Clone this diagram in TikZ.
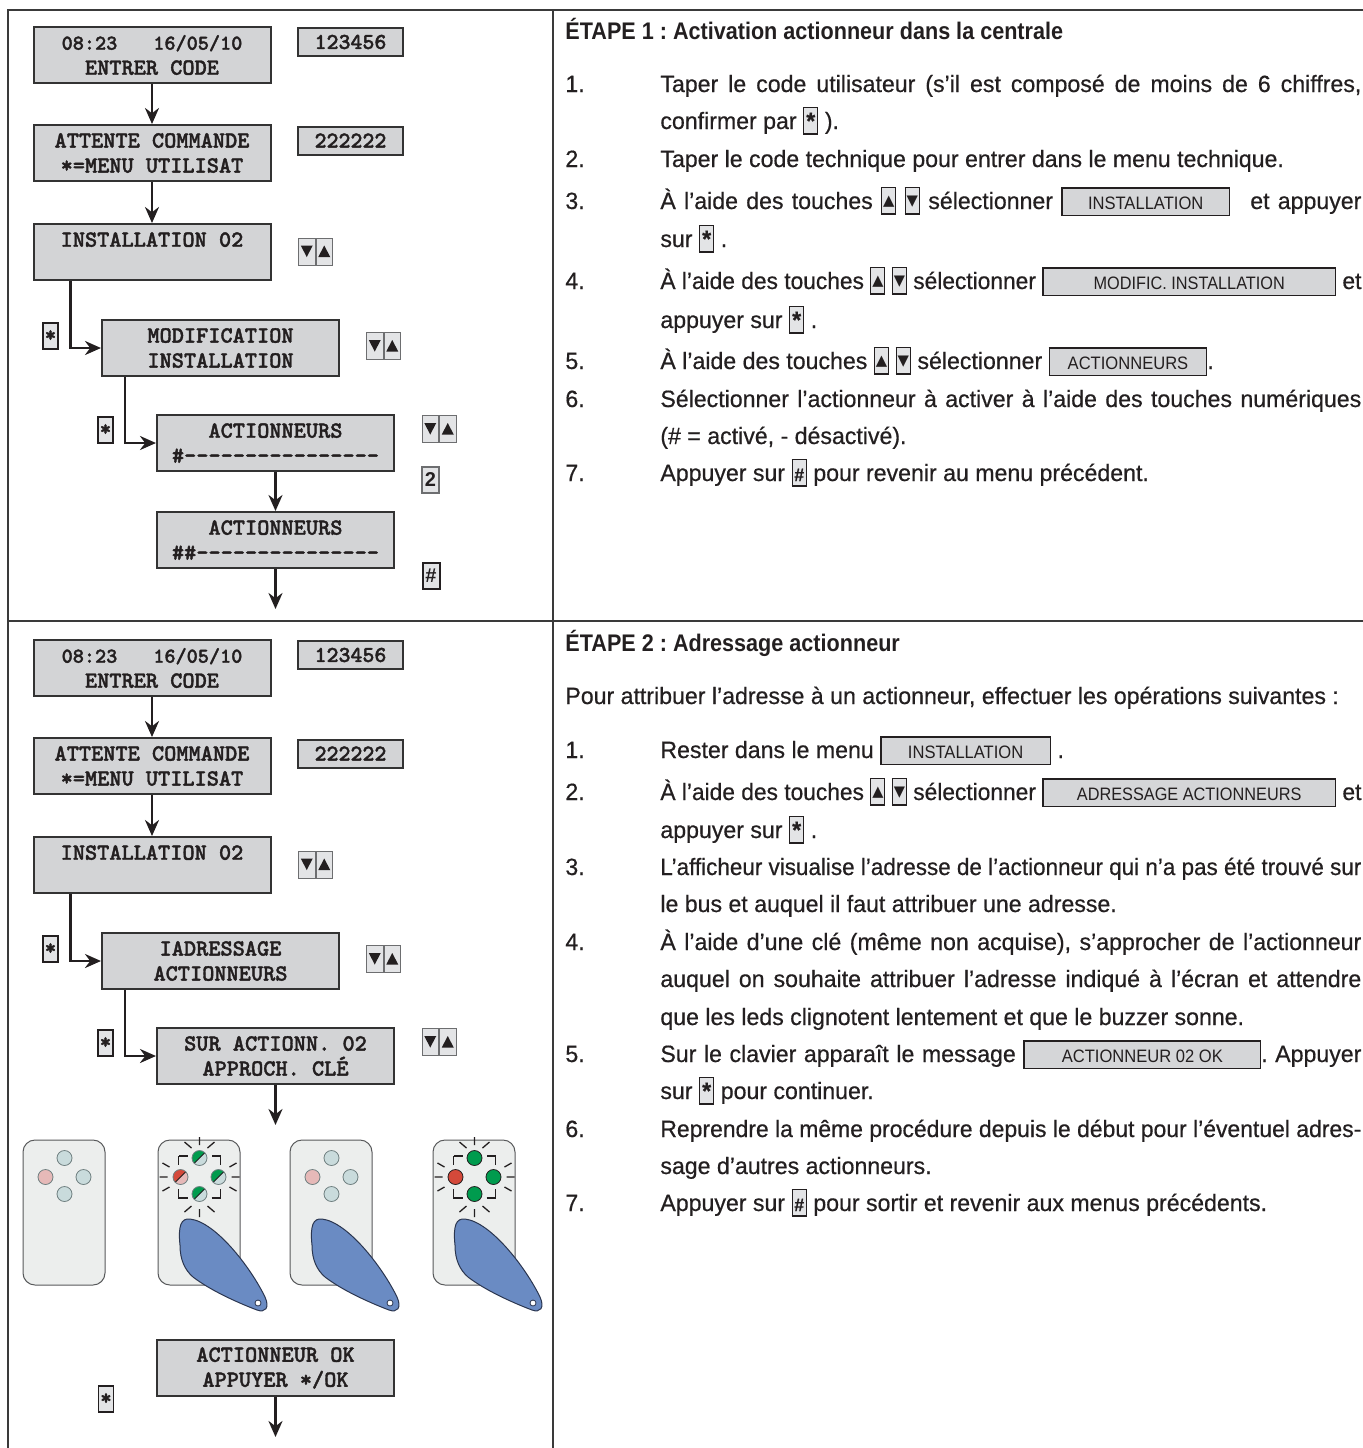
\documentclass[tikz,border=0pt]{standalone}
\usepackage{fontspec}
\setmainfont{Liberation Sans}
\newfontfamily\bodyfont{Liberation Sans}[FakeStretch=0.98,FakeBold=0.5]
\newfontfamily\headfont{Liberation Sans}[FakeStretch=0.9]
\newfontfamily\lblfont{Liberation Sans}[FakeStretch=0.92]
\newfontfamily\lcdfont{lmmonolt10-bold.otf}[FakeBold=1.6]
\newfontfamily\symfont{DejaVu Sans}
\usetikzlibrary{arrows.meta,calc}

\definecolor{ink}{HTML}{231F20}
\definecolor{framecol}{HTML}{3A3A3A}
\definecolor{lcdline}{HTML}{333333}
\definecolor{lcdfill}{HTML}{D3D4D6}
\definecolor{keyfill}{HTML}{E3E4E6}
\definecolor{keyline}{HTML}{6D6E70}
\definecolor{lblfill}{HTML}{D5D6D8}
\definecolor{remfill}{HTML}{ECEEED}
\definecolor{remline}{HTML}{58595B}
\definecolor{ledpale}{HTML}{C9DBDC}
\definecolor{ledpink}{HTML}{E6B9B8}
\definecolor{ledgreen}{HTML}{009B4E}
\definecolor{ledred}{HTML}{D4493A}
\definecolor{ledline}{HTML}{6F7F80}
\definecolor{fobblue}{HTML}{6A8BC3}
\definecolor{fobline}{HTML}{2B3650}

% one dash of the LCD bar graph (kern keeps hyphens from merging)
\newcommand\lcdbar{-\kern0pt}
% LCD lettering: serif typewriter bold
\newcommand\lcdtype{\lcdfont}
% justified text line of the instruction column (squeezed if too long)
\newsavebox\jbox
\newcommand\jline[1]{\sbox\jbox{#1}%
  \ifdim\wd\jbox>350.5pt\resizebox{350.5pt}{\height}{\usebox\jbox}%
  \else\makebox[350.5pt][s]{#1}\fi}
% keypad keys shown inside the text
\newcommand\kbox[1]{{\setlength\fboxsep{0pt}\setlength\fboxrule{0.55pt}%
  \fcolorbox{ink}{keyfill}{\makebox[6.6pt]{\rule[-2.2pt]{0pt}{12.6pt}#1}}}}
\newcommand\kup{\kbox{\raisebox{1.6pt}{\symfont\fontsize{7.4}{7.4}\selectfont ▲}}}
\newcommand\kdown{\kbox{\raisebox{1.6pt}{\symfont\fontsize{7.4}{7.4}\selectfont ▼}}}
\newcommand\kstar{\kbox{\bfseries *}}
\newcommand\khash{\kbox{\fontsize{9}{9}\selectfont\bfseries\#}}
% display messages quoted inside the text
\newcommand\lbl[2]{{\setlength\fboxsep{0pt}\setlength\fboxrule{0.7pt}%
  \fcolorbox{ink}{lblfill}{\makebox[#1]{\rule[-2.8pt]{0pt}{12.9pt}\lblfont\fontsize{9}{9}\selectfont #2}}}}

\tikzset{
  lcd/.style={draw=lcdline, fill=lcdfill, line width=1pt, minimum width=118.5pt,
    minimum height=28pt, inner sep=0pt, align=center, text=ink,
    font={\lcdtype\fontsize{11.6}{12.5}\selectfont}},
  codebox/.style={draw=lcdline, fill=lcdfill, line width=1pt, minimum width=52.5pt,
    minimum height=14pt, inner sep=0pt, text=ink,
    font={\lcdtype\fontsize{11.4}{12}\selectfont}},
  flow/.style={draw=ink, line width=1.25pt, -{Stealth[length=8pt,width=7pt,inset=2.6pt]}},
  keyb/.style={draw=keyline, fill=keyfill, line width=0.5pt, minimum width=8.25pt,
    minimum height=13.5pt, inner sep=0pt},
  starkey/.style={draw=ink, fill=keyfill, line width=0.8pt, minimum width=7.5pt,
    minimum height=13pt, inner sep=0pt, text=ink,
    font={\lcdtype\fontsize{11}{11}\selectfont}},
  numkey/.style={draw=keyline, fill=keyfill, line width=0.6pt, minimum width=8.5pt,
    minimum height=13pt, inner sep=0pt, text=ink,
    font={\bfseries\fontsize{10}{10}\selectfont}},
  hashkey/.style={numkey, draw=ink, line width=1pt},
  body/.style={anchor=base west, inner sep=0pt, text=ink, font={\bodyfont\fontsize{11.8}{13}\selectfont}},
  head/.style={body, font={\headfont\bfseries\fontsize{12}{13}\selectfont}},
  frame/.style={draw=framecol, line width=1pt},
  remote/.style={draw=remline, fill=remfill, line width=0.5pt, rounded corners=6pt},
  fob/.style={draw=fobline, fill=fobblue, line width=0.5pt},
  led/.style={draw=ledline, line width=0.4pt},
  ray/.style={draw=ink, line width=0.65pt},
  blink/.style={draw=ink, line width=0.9pt, dash pattern=on 9pt off 12pt, dash phase=4.5pt},
}

% pair of arrow keys (down, up) centred on #2,#3
\newcommand\udkeys[3]{%
  \node[keyb, anchor=east] (#1d) at (#2,#3) {};
  \node[keyb, anchor=west] (#1u) at (#2,#3) {};
  \fill[ink] ($(#1d.center)+(-6,-6)$) -- ($(#1d.center)+(6,-6)$) -- ($(#1d.center)+(0,5.5)$) -- cycle;
  \fill[ink] ($(#1u.center)+(-6,5.5)$) -- ($(#1u.center)+(6,5.5)$) -- ($(#1u.center)+(0,-6)$) -- cycle;
}
% remote case with left edge at #1
\newcommand\remotecase[1]{\draw[remote] (#1,1140) rectangle ($(#1,1140)+(82,145)$);}
% plain led
\newcommand\ledplain[3]{\filldraw[led, fill=#3] (#1,#2) circle (7.5);}
% half-lit led: pale colour #3, lit colour #4
\newcommand\ledhalf[4]{%
  \fill[#3] (#1,#2) circle (7.5);
  \fill[#4] ($(#1,#2)+(-45:7.5)$) arc (-45:-225:7.5) -- cycle;
  \draw[led, draw=ink] ($(#1,#2)+(135:7.5)$) -- ($(#1,#2)+(-45:7.5)$);
  \draw[led] (#1,#2) circle (7.5);
}
% blinking marks around the led cluster centred on #1,#2
\newcommand\blinkmarks[2]{%
  \begin{scope}[shift={(#1,#2)}]
    \draw[ray] (0,-32)--(0,-40) (0,32)--(0,40) (-32,0)--(-40,0) (32,0)--(40,0)
      (-8,-29)--(-15,-35) (8,-29)--(15,-35) (-8,29)--(-15,35) (8,29)--(15,35)
      (-30,-10)--(-37,-14) (30,-10)--(37,-14) (-30,10)--(-37,14) (30,10)--(37,14);
    \draw[blink] (-21,-21) rectangle (21,21);
  \end{scope}}
% key fob laid over a remote whose left edge is #1
\newcommand\keyfob[1]{%
  \begin{scope}[shift={(#1,1140)}]
    \filldraw[fob] (22,105) .. controls (20,86) and (23,78) .. (32,79)
      .. controls (58,82) and (93,128) .. (107,157)
      .. controls (112,168) and (107,173) .. (99,170)
      .. controls (78,162) and (52,150) .. (35,137)
      .. controls (27,130) and (22,120) .. (22,105) -- cycle;
    \filldraw[fill=white, draw=fobline, line width=0.4pt] (100,163) circle (3);
  \end{scope}}

\begin{document}
\frenchspacing
\begin{tikzpicture}[x=0.5pt,y=-0.5pt]
\useasboundingbox (0,0) rectangle (1363,1448);
\fill[white] (0,0) rectangle (1363,1448);

% ---------- frame ----------
\draw[frame] (8,1448) -- (8,10) -- (1363,10);
\draw[frame] (8,621) -- (1363,621);
\draw[frame] (553,10) -- (553,1448);

% ---------- step 1: keypad sequence ----------
\node[lcd] (t1) at (152,55) {{\fontsize{10.6}{12.5}\selectfont 08:23\hspace{18pt}16/05/10}\\ENTRER CODE};
\node[codebox] (tc1) at (350.5,42) {123456};
\node[lcd] (t2) at (152,153) {ATTENTE COMMANDE\\*=MENU UTILISAT};
\node[codebox] (tc2) at (350.5,140.5) {222222};
\node[lcd] (t3) at (152,252) {INSTALLATION 02\\\phantom{I}};
\udkeys{tk1}{315.5}{251.5}
\node[starkey] (ts1) at (50.5,336) {*};
\node[lcd] (t4) at (220.5,348) {MODIFICATION\\INSTALLATION};
\udkeys{tk2}{383.5}{346}
\node[starkey] (ts2) at (105.5,430) {*};
\node[lcd] (t5) at (275.5,443) {ACTIONNEURS\\\#\lcdbar\lcdbar\lcdbar\lcdbar\lcdbar\lcdbar\lcdbar\lcdbar\lcdbar\lcdbar\lcdbar\lcdbar\lcdbar\lcdbar\lcdbar\lcdbar};
\udkeys{tk3}{439}{429}
\node[numkey] (tn2) at (430.5,480) {2};
\node[lcd] (t6) at (275.5,540) {ACTIONNEURS\\\#\#\lcdbar\lcdbar\lcdbar\lcdbar\lcdbar\lcdbar\lcdbar\lcdbar\lcdbar\lcdbar\lcdbar\lcdbar\lcdbar\lcdbar\lcdbar};
\node[hashkey] (th) at (431,576) {\#};
\coordinate (t7) at (275.5,609);

\draw[flow] (t1) -- (t2);
\draw[flow] (t2) -- (t3);
\draw[flow] ($(t3.south west)+(38,0)$) |- (t4.west);
\draw[flow] ($(t4.south west)+(24,0)$) |- (t5.west);
\draw[flow] (t5) -- (t6);
\draw[flow] (t6) -- (t7);

% ---------- step 2: keypad sequence ----------
\node[lcd] (u1) at (152,668) {{\fontsize{10.6}{12.5}\selectfont 08:23\hspace{18pt}16/05/10}\\ENTRER CODE};
\node[codebox] (uc1) at (350.5,655) {123456};
\node[lcd] (u2) at (152,766) {ATTENTE COMMANDE\\*=MENU UTILISAT};
\node[codebox] (uc2) at (350.5,753.5) {222222};
\node[lcd] (u3) at (152,865) {INSTALLATION 02\\\phantom{I}};
\udkeys{uk1}{315.5}{864.5}
\node[starkey] (us1) at (50.5,949) {*};
\node[lcd] (u4) at (220.5,961) {IADRESSAGE\\ACTIONNEURS};
\udkeys{uk2}{383.5}{959}
\node[starkey] (us2) at (105.5,1043) {*};
\node[lcd] (u5) at (275.5,1056) {SUR ACTIONN. 02\\APPROCH. CLÉ};
\udkeys{uk3}{439}{1042}
\coordinate (u6) at (275.5,1125);
\node[lcd] (u7) at (275.5,1368) {ACTIONNEUR OK\\APPUYER */OK};
\node[starkey] (us3) at (106,1399) {*};
\coordinate (u8) at (275.5,1437);

\draw[flow] (u1) -- (u2);
\draw[flow] (u2) -- (u3);
\draw[flow] ($(u3.south west)+(38,0)$) |- (u4.west);
\draw[flow] ($(u4.south west)+(24,0)$) |- (u5.west);
\draw[flow] (u5) -- (u6);
\draw[flow] (u7) -- (u8);

% ---------- actuator and key fob ----------
% idle actuator
\remotecase{23}
\ledplain{64.5}{1158}{ledpale}
\ledplain{45.5}{1177}{ledpink}
\ledplain{83.5}{1177}{ledpale}
\ledplain{64.5}{1194}{ledpale}
% fob approached, leds blinking slowly
\remotecase{158}
\blinkmarks{199.5}{1177}
\ledhalf{199.5}{1158}{ledpale}{ledgreen}
\ledhalf{180.5}{1177}{ledpink}{ledred}
\ledhalf{218.5}{1177}{ledpale}{ledgreen}
\ledhalf{199.5}{1194}{ledpale}{ledgreen}
\keyfob{158}
% leds off
\remotecase{290}
\ledplain{331.5}{1158}{ledpale}
\ledplain{312.5}{1177}{ledpink}
\ledplain{350.5}{1177}{ledpale}
\ledplain{331.5}{1194}{ledpale}
\keyfob{290}
% address accepted, leds lit
\remotecase{433}
\blinkmarks{474.5}{1177}
\filldraw[led, draw=ink, fill=ledgreen] (474.5,1158) circle (7.5);
\filldraw[led, draw=ink, fill=ledred] (455.5,1177) circle (7.5);
\filldraw[led, draw=ink, fill=ledgreen] (493.5,1177) circle (7.5);
\filldraw[led, draw=ink, fill=ledgreen] (474.5,1194) circle (7.5);
\keyfob{433}

% ---------- step 1: instructions ----------
\node[head] (h1) at (565,39) {ÉTAPE 1 : Activation actionneur dans la centrale};
\node[body] (n11) at (565,92) {1.};
\node[body] (l11a) at (660,92) {\jline{Taper le code utilisateur (s’il est composé de moins de 6 chiffres,}};
\node[body] (l11b) at (660,129) {confirmer par \kstar{} ).};
\node[body] (n12) at (565,167) {2.};
\node[body] (l12) at (660,167) {Taper le code technique pour entrer dans le menu technique.};
\node[body] (n13) at (565,209) {3.};
\node[body] (l13a) at (660,209) {\jline{À l’aide des touches \kup{} \kdown{} sélectionner \lbl{83pt}{INSTALLATION}\hspace{6pt} et appuyer}};
\node[body] (l13b) at (660,247) {sur \kstar{} .};
\node[body] (n14) at (565,289) {4.};
\node[body] (l14a) at (660,289) {\jline{À l’aide des touches \kup{} \kdown{} sélectionner \lbl{148pt}{MODIFIC. INSTALLATION} et}};
\node[body] (l14b) at (660,328) {appuyer sur \kstar{} .};
\node[body] (n15) at (565,369) {5.};
\node[body] (l15) at (660,369) {À l’aide des touches \kup{} \kdown{} sélectionner \lbl{78pt}{ACTIONNEURS}.};
\node[body] (n16) at (565,407) {6.};
\node[body] (l16a) at (660,407) {\jline{Sélectionner l’actionneur à activer à l’aide des touches numériques}};
\node[body] (l16b) at (660,444) {(\# = activé, - désactivé).};
\node[body] (n17) at (565,481) {7.};
\node[body] (l17) at (660,481) {Appuyer sur \khash{} pour revenir au menu précédent.};

% ---------- step 2: instructions ----------
\node[head] (h2) at (565,651) {ÉTAPE 2 : Adressage actionneur};
\node[body] (p2) at (565,704) {Pour attribuer l’adresse à un actionneur, effectuer les opérations suivantes :};
\node[body] (n21) at (565,758) {1.};
\node[body] (l21) at (660,758) {Rester dans le menu \lbl{84pt}{INSTALLATION} .};
\node[body] (n22) at (565,800) {2.};
\node[body] (l22a) at (660,800) {\jline{À l’aide des touches \kup{} \kdown{} sélectionner \lbl{148pt}{ADRESSAGE ACTIONNEURS} et}};
\node[body] (l22b) at (660,838) {appuyer sur \kstar{} .};
\node[body] (n23) at (565,875) {3.};
\node[body] (l23a) at (660,875) {\jline{L’afficheur visualise l’adresse de l’actionneur qui n’a pas été trouvé sur}};
\node[body] (l23b) at (660,912) {le bus et auquel il faut attribuer une adresse.};
\node[body] (n24) at (565,950) {4.};
\node[body] (l24a) at (660,950) {\jline{À l’aide d’une clé (même non acquise), s’approcher de l’actionneur}};
\node[body] (l24b) at (660,987) {\jline{auquel on souhaite attribuer l’adresse indiqué à l’écran et attendre}};
\node[body] (l24c) at (660,1025) {que les leds clignotent lentement et que le buzzer sonne.};
\node[body] (n25) at (565,1062) {5.};
\node[body] (l25a) at (660,1062) {\jline{Sur le clavier apparaît le message \lbl{117.5pt}{ACTIONNEUR 02 OK}. Appuyer}};
\node[body] (l25b) at (660,1099) {sur \kstar{} pour continuer.};
\node[body] (n26) at (565,1137) {6.};
\node[body] (l26a) at (660,1137) {\jline{Reprendre la même procédure depuis le début pour l’éventuel adres-}};
\node[body] (l26b) at (660,1174) {sage d’autres actionneurs.};
\node[body] (n27) at (565,1211) {7.};
\node[body] (l27) at (660,1211) {Appuyer sur \khash{} pour sortir et revenir aux menus précédents.};
\end{tikzpicture}
\end{document}
